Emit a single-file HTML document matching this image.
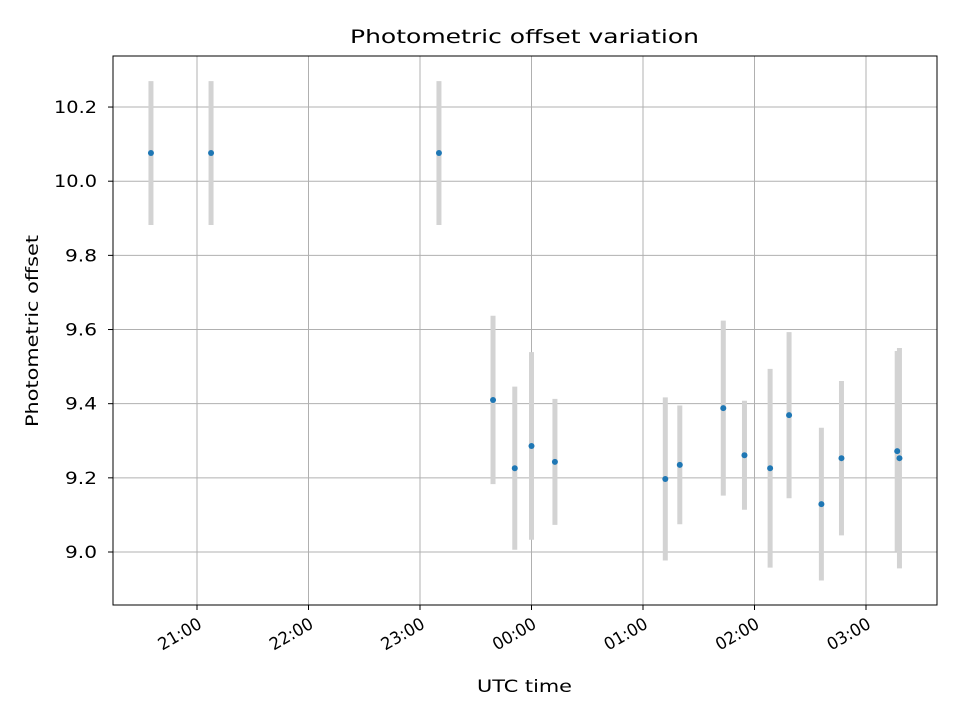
<!DOCTYPE html>
<html><head><meta charset="utf-8"><style>
body{margin:0;background:#fff;font-family:"Liberation Sans","DejaVu Sans",sans-serif;}
svg text{font-family:"DejaVu Sans","Liberation Sans",sans-serif;}
</style></head><body>
<svg id="chart" width="960" height="720" viewBox="0 0 960 720">
<rect width="960" height="720" fill="#fff"/>
<g id="grid"></g>
<g id="bars"></g>
<g id="pts"></g>
<rect x="113" y="56" width="824" height="549" fill="none" stroke="#000" stroke-width="1"/>
<g id="axes"></g>
<text x="350" y="43" font-size="19" textLength="349" lengthAdjust="spacingAndGlyphs">Photometric offset variation</text>
<text x="477" y="692" font-size="17" textLength="95" lengthAdjust="spacingAndGlyphs">UTC time</text>
<text x="38" y="427" font-size="17" textLength="192" lengthAdjust="spacingAndGlyphs" transform="rotate(-90 38 427)">Photometric offset</text>
</svg>
<script>
// hours relative to 21:00 UTC
const times = [-0.413,0.126,2.17,2.655,2.85,3.0,3.21,4.2,4.33,4.72,4.91,5.14,5.31,5.6,5.78,6.28,6.30];
const offsets = [10.076,10.076,10.076,9.41,9.226,9.286,9.243,9.197,9.235,9.388,9.261,9.226,9.369,9.129,9.253,9.272,9.253];
const errors = [0.194,0.194,0.194,0.227,0.22,0.253,0.17,0.22,0.16,0.236,0.147,0.268,0.224,0.206,0.208,0.27,0.297];
const xTickHours = [0,1,2,3,4,5,6];
const xTickLabels = ["21:00","22:00","23:00","00:00","01:00","02:00","03:00"];
const yTicks = [9.0,9.2,9.4,9.6,9.8,10.0,10.2];

const NS="http://www.w3.org/2000/svg";
const xs = h => 197 + h*111.5;
const ys = v => 552 - (v-9.0)*370.8;
function mk(tag, attrs, parent){const e=document.createElementNS(NS,tag);for(const k in attrs)e.setAttribute(k,attrs[k]);document.getElementById(parent).appendChild(e);return e;}

xTickHours.forEach((h,i)=>{
  const x=xs(h);
  const g=mk('line',{x1:x,x2:x,y1:56,y2:605,stroke:'#b0b0b0','stroke-width':1},'grid');
  
  
  const t=mk('line',{x1:x,x2:x,y1:605,y2:610,stroke:'#000'},'axes');
  
  
  const l=mk('text',{x:x-44,y:628,'font-size':17,textLength:47,lengthAdjust:'spacingAndGlyphs',transform:`rotate(-30 ${x+3} 622)`},'axes');
  l.textContent=xTickLabels[i];
  
  
});
yTicks.forEach(v=>{
  const y=ys(v);
  const g=mk('line',{x1:113,x2:937,y1:y,y2:y,stroke:'#b0b0b0','stroke-width':1},'grid');
  
  
  const t=mk('line',{x1:108,x2:113,y1:y,y2:y,stroke:'#000'},'axes');
  
  
  const s=v.toFixed(1);
  const w=s.length===4?43:32;
  const l=mk('text',{x:97-w,y:y+6,'font-size':17,textLength:w,lengthAdjust:'spacingAndGlyphs'},'axes');
  l.textContent=s;
  
  
});
times.forEach((h,i)=>{
  const x=xs(h);
  const b=mk('line',{x1:x,x2:x,y1:ys(offsets[i]+errors[i]),y2:ys(offsets[i]-errors[i]),stroke:'#d3d3d3','stroke-width':5},'bars');
  
  
  const p=mk('circle',{cx:x,cy:ys(offsets[i]),r:3,fill:'#1f77b4'},'pts');
  
  
});
</script>
</body></html>
